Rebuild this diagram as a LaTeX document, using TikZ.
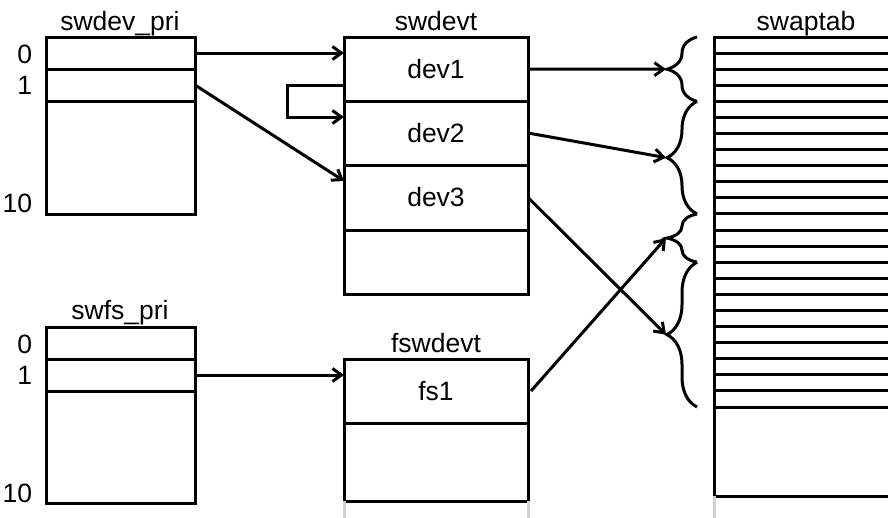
\documentclass[tikz,border=0pt]{standalone}
\usepackage{fontspec}
\setmainfont{Liberation Sans}
\usetikzlibrary{arrows.meta}
\usetikzlibrary{decorations.pathreplacing}
\usetikzlibrary{positioning}

\begin{document}
\begin{tikzpicture}[x=1pt,y=-1pt,line width=3pt,
        >={Straight Barb[length=9pt,width=13pt]},
        every node/.style={font=\fontsize{26.5}{30}\selectfont},
        cell/.style={draw, inner sep=0pt, outer sep=0pt, anchor=north west},
        pri/.style={cell, minimum width=149pt},
        dev/.style={cell, minimum width=184pt},
        title/.style={anchor=base},
        idx/.style={anchor=base east},
        brace/.style={decorate, decoration={brace, amplitude=30pt}},
        stub/.style={gray!35}]
        \useasboundingbox (0,0) rectangle (888,517);
        \clip (0,0) rectangle (888,517);
        \node[pri, minimum height=32pt] (p0) at (46,37) {};
        \node[pri, minimum height=32pt, below=0pt of p0] (p1) {};
        \node[pri, minimum height=113pt, below=0pt of p1] (p10) {};
        \node[title] (tpri) at (120,30) {swdev\_pri};
        \node[idx] (ip0) at (37,63) {0};
        \node[idx] (ip1) at (37,94) {1};
        \node[idx] (ip10) at (37,212) {10};
        \node[pri, minimum height=32pt] (q0) at (46,327) {};
        \node[pri, minimum height=32pt, below=0pt of q0] (q1) {};
        \node[pri, minimum height=112pt, below=0pt of q1] (q10) {};
        \node[title] (tfs) at (120,319) {swfs\_pri};
        \node[idx] (iq0) at (37,353) {0};
        \node[idx] (iq1) at (37,384) {1};
        \node[idx] (iq10) at (37,502) {10};
        \node[dev, minimum height=64pt] (dev1) at (344,37) {dev1};
        \node[dev, minimum height=64pt, below=0pt of dev1] (dev2) {dev2};
        \node[dev, minimum height=65pt, below=0pt of dev2] (dev3) {dev3};
        \node[dev, minimum height=64pt, below=0pt of dev3] (dev4) {};
        \node[title] (tdev) at (436,30) {swdevt};
        \node[dev, minimum height=64pt] (fs1) at (344,359) {fs1};
        \node[dev, minimum height=78pt, below=0pt of fs1] (fs2) {};
        \node[title] (tfsdev) at (436,352) {fswdevt};
        \node[cell, minimum width=190pt, minimum height=459pt] (swaptab) at (714,37) {};
        \node[title] (tswap) at (806,30) {swaptab};
        \foreach \k in {1,...,23}
            \draw ([yshift=-\k*16.087pt]swaptab.north west) -- ([yshift=-\k*16.087pt]swaptab.north east);
        \foreach \a/\b/\n in {0/4/1, 4/11/2, 11/14/3, 14/23/4} {
            \draw[brace] ([xshift=-17pt,yshift=-\b*16.087pt]swaptab.north west) -- ([xshift=-17pt,yshift=-\a*16.087pt]swaptab.north west);
            \coordinate (tip\n) at ([xshift=-48pt,yshift=-(\a+\b)*8.0435pt]swaptab.north west);
        }
        \draw[->] (p0.east) -- (p0.east -| dev1.west);
        \draw[->] (p1.east) -- ([yshift=-16pt]dev3.north west);
        \draw[->] ([yshift=16pt]dev1.south west) -- ++(-57,0) |- ([yshift=-16pt]dev2.north west);
        \draw[->] (q1.east) -- (q1.east -| fs1.west);
        \draw[->] (dev1.east) -- (tip1);
        \draw[->] (dev2.east) -- (tip2);
        \draw[->] (dev3.east) -- (tip4);
        \draw[->] ([xshift=3pt]fs1.east) -- (tip3);
        \draw[stub] (fs2.south west) -- ++(0,17);
        \draw[stub] (fs2.south east) -- ++(0,17);
        \draw[stub] (swaptab.south west) -- ++(0,22);
\end{tikzpicture}
\end{document}
